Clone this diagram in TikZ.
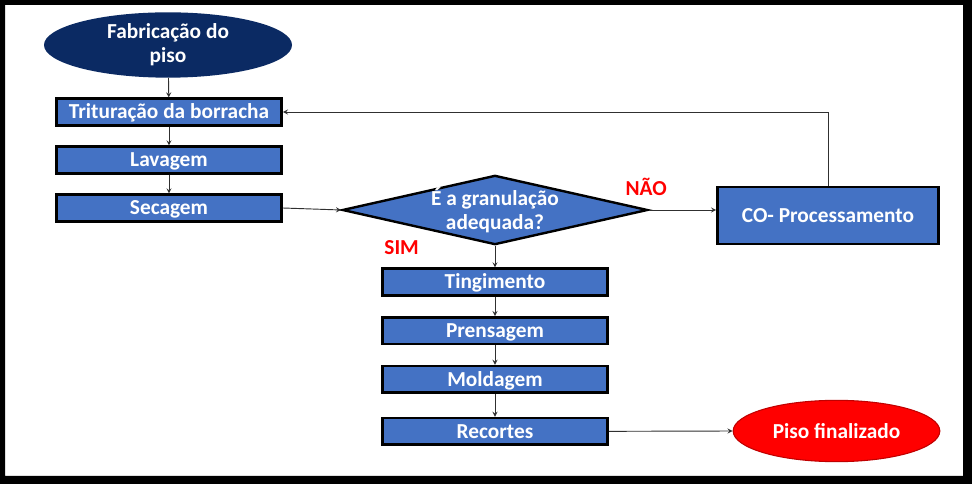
\documentclass[tikz,border=0pt]{standalone}
\usepackage{fontspec}
\setmainfont{Carlito}
\usetikzlibrary{shapes.geometric, arrows}
\definecolor{navy}{HTML}{0B2A63}
\definecolor{boxblue}{HTML}{4472C4}
\definecolor{brightred}{HTML}{FF0000}
\definecolor{darkred}{HTML}{C00000}
\definecolor{linegray}{HTML}{303030}
\tikzstyle{startstop} = [ellipse, minimum width=186pt, minimum height=49pt, inner sep=0pt, align=center, fill=navy, text=white, font=\bfseries\fontsize{16}{18}\selectfont]
\tikzstyle{finish} = [ellipse, minimum width=155pt, minimum height=46pt, inner sep=0pt, align=center, draw=darkred, line width=0.8pt, fill=brightred, text=white, font=\bfseries\fontsize{16}{18}\selectfont]
\tikzstyle{process} = [rectangle, minimum width=169pt, minimum height=20pt, inner sep=0pt, text height=10.3pt, text depth=0pt, text centered, draw=black, line width=1.8pt, fill=boxblue, text=white, font=\bfseries\fontsize{16}{18}\selectfont]
\tikzstyle{bigprocess} = [process, minimum width=166pt, minimum height=43pt]
\tikzstyle{decision} = [diamond, aspect=4.4, minimum width=229pt, minimum height=52pt, inner xsep=-40pt, inner ysep=-14pt, align=center, draw=black, line width=1.8pt, fill=boxblue, text=white, font=\bfseries\fontsize{16}{18}\selectfont]
\tikzstyle{answer} = [text=red, font=\bfseries\fontsize{16}{18}\selectfont]
\tikzstyle{arrow} = [line width=0.7pt, draw=linegray, ->, >=stealth]

\begin{document}
\begin{tikzpicture}[x=0.75pt, y=-0.75pt, node distance=36pt]

% Frame
\useasboundingbox (0,0) rectangle (972,484);
\fill [black, even odd rule] (0,0) rectangle (972,484) (5,5) rectangle (963,476);

% Nodes
\node (start) [startstop] at (168,45) {Fabricação do\\piso};
\node (trituracao) [process] at (169,112) {Trituração da borracha};
\node (lavagem) [process, below of=trituracao] {Lavagem};
\node (secagem) [process, below of=lavagem] {Secagem};
\node (granulacao) [decision] at (495,210) {É a granulação\\adequada?};
\node (coprocess) [bigprocess] at (828,215.5) {CO- Processamento};
\node (tingimento) [process] at (495,282) {Tingimento};
\node (prensagem) [process, below of=tingimento, yshift=-0.5pt] {Prensagem};
\node (moldagem) [process, below of=prensagem, yshift=-0.5pt] {Moldagem};
\node (recortes) [process, below of=moldagem, yshift=-3pt] {Recortes};
\node (fim) [finish] at (836.5,431) {Piso finalizado};

% Arrows
\draw [arrow] (start) -- (trituracao);
\draw [arrow] (trituracao) -- (lavagem);
\draw [arrow] (lavagem) -- (secagem);
\draw [arrow] (secagem.east) -- (granulacao.west);
\draw [arrow] (granulacao.east) -- (granulacao.east -| coprocess.west) node[answer, pos=0, xshift=-2pt, yshift=17pt]{NÃO};
\draw [arrow] (coprocess.north) |- (trituracao.east);
\draw [arrow] (granulacao.south) -- (tingimento.north) node[answer, pos=0, xshift=-70pt, yshift=-1.5pt]{SIM};
\draw [arrow] (tingimento) -- (prensagem);
\draw [arrow] (prensagem) -- (moldagem);
\draw [arrow] (moldagem) -- (recortes);
\draw [arrow] (recortes.east) -- (fim.west);

\end{tikzpicture}
\end{document}
